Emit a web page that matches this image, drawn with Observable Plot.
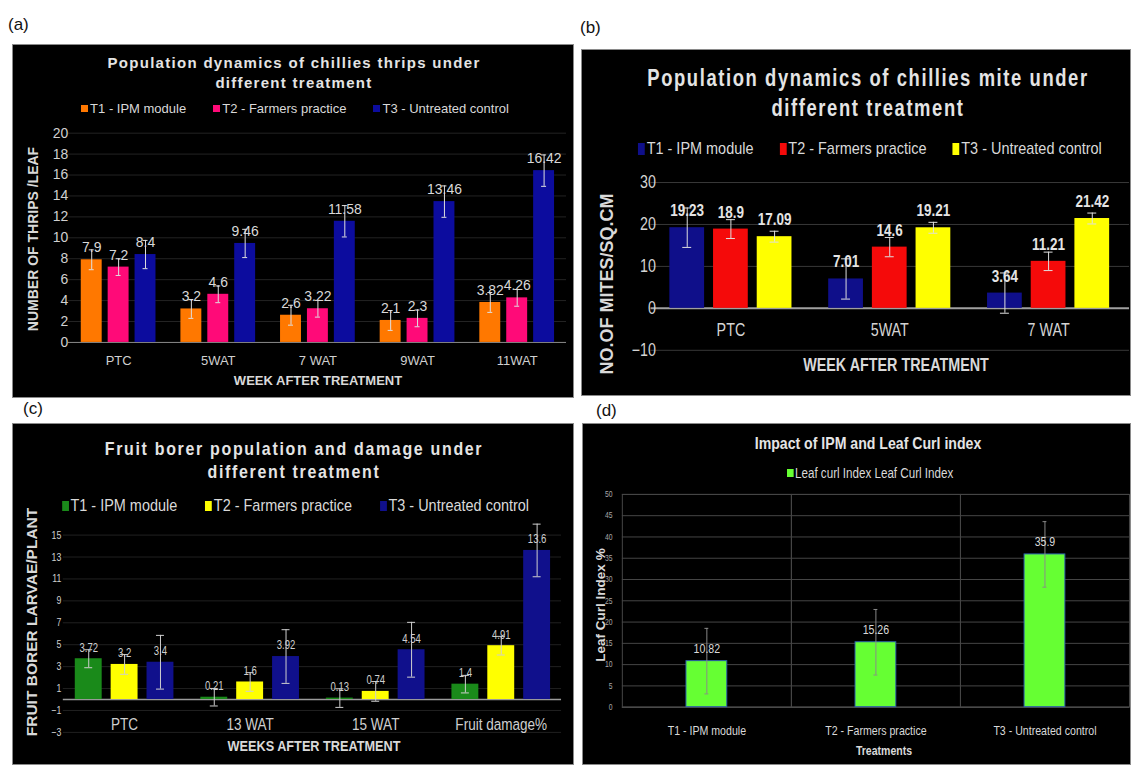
<!DOCTYPE html>
<html><head><meta charset="utf-8">
<script src="https://cdn.jsdelivr.net/npm/d3@7"></script>
<script src="https://cdn.jsdelivr.net/npm/@observablehq/plot@0.6"></script>
<style>
body{margin:0;background:#fff;width:1131px;height:765px;overflow:hidden;position:relative;font-family:"Liberation Sans",Arial,sans-serif;}
.tag{position:absolute;font-size:17px;line-height:20px;color:#111;}
.panel{position:absolute;background:#000;overflow:hidden;box-sizing:border-box;border:1px solid #8a8a8a;}
.panel svg{position:absolute;left:-1px;top:-1px;}
.title{position:absolute;text-align:center;font-weight:bold;color:#e4e4e4;white-space:nowrap;}
.legend{position:absolute;display:flex;justify-content:center;align-items:center;white-space:nowrap;color:#d9d9d9;}
.legend .it{display:flex;align-items:center;}
.legend .sw{display:inline-block;margin-right:2px;}
.ylab{position:absolute;white-space:nowrap;font-weight:bold;}
.xlab{position:absolute;white-space:nowrap;font-weight:bold;}
</style>
</head>
<body>
<div class="tag" style="left:8px;top:15px">(a)</div>
<div class="tag" style="left:580px;top:18px">(b)</div>
<div class="tag" style="left:23px;top:399px">(c)</div>
<div class="tag" style="left:596px;top:401px">(d)</div>
<div class="panel" id="pa" style="left:12px;top:44px;width:562px;height:354px"></div>
<div class="panel" id="pb" style="left:581px;top:49px;width:550px;height:347px"></div>
<div class="panel" id="pc" style="left:12px;top:423px;width:562px;height:342px"></div>
<div class="panel" id="pd" style="left:582px;top:423px;width:549px;height:342px"></div>
<script>
// ---------- data ----------
const treatmentSeries = ["T1 - IPM module", "T2 - Farmers practice", "T3 - Untreated control"];

const thripsWeeks = ["PTC", "5WAT", "7 WAT", "9WAT", "11WAT"];
const thripsT1 = [7.9, 3.2, 2.6, 2.1, 3.82];
const thripsT2 = [7.2, 4.6, 3.22, 2.3, 4.26];
const thripsT3 = [8.4, 9.46, 11.58, 13.46, 16.42];
const thripsErrT1 = [0.95, 0.9, 0.95, 0.95, 0.95];
const thripsErrT2 = [0.8, 0.8, 0.8, 0.8, 0.8];
const thripsErrT3 = [1.35, 1.35, 1.5, 1.5, 1.5];
const thripsTicks = [0, 2, 4, 6, 8, 10, 12, 14, 16, 18, 20];
const thripsColors = ["#ff7800", "#ff0a78", "#0c0c9e"];

const miteWeeks = ["PTC", "5WAT", "7 WAT"];
const miteT1 = [19.23, 7.01, 3.64];
const miteT2 = [18.9, 14.6, 11.21];
const miteT3 = [17.09, 19.21, 21.42];
const miteErrT1 = [4.7, 4.8, 4.8];
const miteErrT2 = [2.25, 2.3, 2.2];
const miteErrT3 = [1.3, 1.3, 1.3];
const miteTicks = [-10, 0, 10, 20, 30];
const miteColors = ["#0f0f8a", "#f50a0a", "#ffff00"];

const borerWeeks = ["PTC", "13 WAT", "15 WAT", "Fruit damage%"];
const borerT1 = [3.72, 0.21, 0.13, 1.4];
const borerT2 = [3.2, 1.6, 0.74, 4.91];
const borerT3 = [3.4, 3.92, 4.54, 13.6];
const borerErrT1 = [0.82, 0.8, 0.85, 0.8];
const borerErrT2 = [0.9, 0.85, 0.9, 0.85];
const borerErrT3 = [2.45, 2.45, 2.5, 2.4];
const borerTicks = [-3, -1, 1, 3, 5, 7, 9, 11, 13, 15];
const borerColors = ["#1a8a1a", "#ffff00", "#10108c"];

const curlTreatments = ["T1 - IPM module", "T2 - Farmers practice", "T3 - Untreated control"];
const curlSeries = "Leaf curl Index Leaf Curl Index";
const curlValues = [10.82, 15.26, 35.9];
const curlErrors = [7.7, 7.7, 7.7];
const curlTicks = [0, 5, 10, 15, 20, 25, 30, 35, 40, 45, 50];
const curlColor = "#66ff33";

const REG = "'Liberation Sans',Arial,sans-serif";

// ---------- helpers ----------
function gridLayer(cfg) {
  return Plot.plot({
    width: cfg.width, height: cfg.height,
    marginTop: cfg.mt, marginBottom: cfg.mb, marginLeft: cfg.ml, marginRight: cfg.mr,
    style: {background: "transparent", overflow: "visible"},
    x: {domain: [0, 1], axis: null},
    y: {domain: cfg.yDomain, axis: null},
    marks: [
      Plot.ruleY(cfg.grid, {stroke: cfg.gridColor}),
      Plot.ruleY([0], {stroke: cfg.zeroColor, strokeWidth: cfg.zeroWidth})
    ]
  });
}

function grouped(cfg) {
  const data = [];
  cfg.cats.forEach((c, i) => cfg.series.forEach((s, j) =>
    data.push({cat: c, ser: s, v: cfg.values[j][i], e: cfg.errors[j][i]})));
  const marks = [
    Plot.barY(data, {fx: "cat", x: "ser", y: "v", fill: "ser"}),
    Plot.ruleX(data, {fx: "cat", x: "ser", y1: d => d.v - d.e, y2: d => d.v + d.e, stroke: cfg.errColor, strokeWidth: 1}),
    Plot.tickY(data, {fx: "cat", x: "ser", y: d => d.v + d.e, stroke: cfg.errColor, insetLeft: cfg.cap, insetRight: cfg.cap}),
    Plot.tickY(data, {fx: "cat", x: "ser", y: d => d.v - d.e, stroke: cfg.errColor, insetLeft: cfg.cap, insetRight: cfg.cap}),
    Plot.text(data, {fx: "cat", x: "ser", y: "v", text: d => String(d.v), dy: cfg.labelDy,
      fill: cfg.labelColor, fontSize: cfg.labelSize, fontWeight: cfg.labelWeight}),
    Plot.axisY({ticks: cfg.yTicks, tickSize: 0, tickPadding: cfg.yPad, fontSize: cfg.ySize,
      fill: cfg.tickColor, label: null})
  ];
  if (cfg.catInside) {
    marks.push(Plot.text(cfg.cats, {fx: d => d, text: d => d, frameAnchor: "bottom", dy: cfg.catDy,
      lineAnchor: "middle", fontSize: cfg.catSize, fill: cfg.tickColor}));
  } else {
    marks.push(Plot.axisFx({anchor: "bottom", tickSize: 0, tickPadding: cfg.catPad, fontSize: cfg.catSize,
      fill: cfg.tickColor, label: null}));
  }
  const fxOpts = {domain: cfg.cats, paddingInner: cfg.fxInner, paddingOuter: cfg.fxOuter, label: null};
  if (cfg.catInside) fxOpts.axis = null;
  return Plot.plot({
    width: cfg.width, height: cfg.height,
    marginTop: cfg.mt, marginBottom: cfg.mb, marginLeft: cfg.ml, marginRight: cfg.mr,
    style: {background: "transparent", color: cfg.tickColor, fontFamily: REG, overflow: "visible"},
    fx: fxOpts,
    x: {domain: cfg.series, paddingInner: cfg.xInner, paddingOuter: 0, axis: null},
    y: {domain: cfg.yDomain},
    color: {domain: cfg.series, range: cfg.colors},
    marks
  });
}

// horizontally condense SVG texts (the reference uses a narrow face)
function condense(svg, f) {
  if (f === 1) return;
  svg.querySelectorAll("text").forEach(t => {
    const L = t.getComputedTextLength();
    if (L > 0) {
      t.setAttribute("textLength", (L * f).toFixed(2));
      t.setAttribute("lengthAdjust", "spacingAndGlyphs");
    }
  });
}

function addHTML(panel, html) {
  panel.insertAdjacentHTML("beforeend", html);
}
function titleHTML(lines, o) {
  return `<div class="title" style="left:0;width:${o.w}px;top:${o.top}px;font-size:${o.size}px;line-height:${o.lh}px;letter-spacing:${o.ls}px;transform:scaleX(${o.sx})">${lines.join("<br>")}</div>`;
}
function legendHTML(items, o) {
  return `<div class="legend" style="top:${o.top}px;left:0;width:${o.w}px;font-size:${o.size}px;gap:${o.gap}px;transform:scaleX(${o.sx})">` +
    items.map(([label, c]) => `<span class="it"><span class="sw" style="background:${c};width:${o.sw[0]}px;height:${o.sw[1]}px"></span>${label}</span>`).join("") +
    `</div>`;
}
function ylabHTML(text, o) {
  return `<div class="ylab" style="left:${o.x}px;top:${o.y}px;font-size:${o.size}px;color:#d9d9d9;transform:translate(-50%,-50%) rotate(-90deg)">${text}</div>`;
}
function xlabHTML(text, o) {
  return `<div class="xlab" style="left:${o.x}px;top:${o.y}px;font-size:${o.size}px;color:#d9d9d9;transform:translate(-50%,-50%) scaleX(${o.sx})">${text}</div>`;
}
function panelChart(el, cfg) {
  el.appendChild(gridLayer(cfg));
  const svg = grouped(cfg);
  el.appendChild(svg);
  condense(svg, cfg.squeeze);
}

// ---------- panel (a) ----------
const pa = document.getElementById("pa");
panelChart(pa, {
  cats: thripsWeeks, series: treatmentSeries,
  values: [thripsT1, thripsT2, thripsT3], errors: [thripsErrT1, thripsErrT2, thripsErrT3],
  colors: thripsColors, width: 562, height: 354, mt: 89, mb: 55, ml: 56, mr: 6,
  fxInner: 0.23, fxOuter: 0.115, xInner: 0.22, yDomain: [0, 20], yTicks: thripsTicks,
  grid: thripsTicks.slice(1), gridColor: "#232323", zeroColor: "#8c8c8c", zeroWidth: 1,
  errColor: "#e0e0e0", cap: 8, labelDy: -12, labelColor: "#d9d9d9", labelSize: 14, labelWeight: "normal",
  yPad: 12, ySize: 14, tickColor: "#d0d0d0",
  catInside: false, catPad: 13, catSize: 13, squeeze: 1
});
addHTML(pa, titleHTML(["Population dynamics of chillies thrips under", "different treatment"], {w: 562, top: 8, size: 15, lh: 20, ls: 1.3, sx: 1}));
addHTML(pa, legendHTML(treatmentSeries.map((s, i) => [s, thripsColors[i]]), {top: 56, w: 564, size: 13, gap: 27, sw: [7, 7], sx: 1}));
addHTML(pa, ylabHTML("NUMBER OF THRIPS /LEAF", {x: 20, y: 194, size: 14}));
addHTML(pa, xlabHTML("WEEK AFTER TREATMENT", {x: 305, y: 335, size: 13, sx: 1}));

// ---------- panel (b) ----------
const pb = document.getElementById("pb");
panelChart(pb, {
  cats: miteWeeks, series: treatmentSeries,
  values: [miteT1, miteT2, miteT3], errors: [miteErrT1, miteErrT2, miteErrT3],
  colors: miteColors, width: 552, height: 347, mt: 134, mb: 44, ml: 70, mr: 0,
  fxInner: 0.216, fxOuter: 0.108, xInner: 0.21, yDomain: [-10, 30], yTicks: miteTicks,
  grid: [-10, 10, 20, 30], gridColor: "#383838", zeroColor: "#a0a0a0", zeroWidth: 2,
  errColor: "#e0e0e0", cap: 13, labelDy: -17, labelColor: "#e4e4e4", labelSize: 17, labelWeight: "bold",
  yPad: 13, ySize: 18, tickColor: "#d4d4d4",
  catInside: true, catDy: -20, catSize: 18, squeeze: 0.8
});
addHTML(pb, titleHTML(["Population dynamics of chillies mite under", "different treatment"], {w: 572, top: 13, size: 23, lh: 30, ls: 2, sx: 0.8}));
addHTML(pb, legendHTML(treatmentSeries.map((s, i) => [s, miteColors[i]]), {top: 89, w: 576, size: 17, gap: 31, sw: [8, 12], sx: 0.85}));
addHTML(pb, ylabHTML("NO.OF MITES/SQ.CM", {x: 25, y: 234, size: 18}));
addHTML(pb, xlabHTML("WEEK AFTER TREATMENT", {x: 314, y: 315, size: 17.5, sx: 0.82}));

// ---------- panel (c) ----------
const pc = document.getElementById("pc");
panelChart(pc, {
  cats: borerWeeks, series: treatmentSeries,
  values: [borerT1, borerT2, borerT3], errors: [borerErrT1, borerErrT2, borerErrT3],
  colors: borerColors, width: 562, height: 342, mt: 112, mb: 32, ml: 51, mr: 11,
  fxInner: 0.2, fxOuter: 0.08, xInner: 0.26, yDomain: [-3, 15], yTicks: borerTicks,
  grid: borerTicks, gridColor: "#202020", zeroColor: "#9a9a9a", zeroWidth: 1.5,
  errColor: "#cfcfcf", cap: 9.5, labelDy: -11, labelColor: "#cfcfcf", labelSize: 12, labelWeight: "normal",
  yPad: 13, ySize: 11, tickColor: "#cfcfcf",
  catInside: true, catDy: -8, catSize: 17, squeeze: 0.8
});
addHTML(pc, titleHTML(["Fruit borer population and damage under", "different treatment"], {w: 562, top: 13, size: 19, lh: 23, ls: 2, sx: 0.84}));
addHTML(pc, legendHTML(treatmentSeries.map((s, i) => [s, borerColors[i]]), {top: 72, w: 565, size: 17, gap: 33, sw: [8, 10], sx: 0.85}));
addHTML(pc, ylabHTML("FRUIT BORER LARVAE/PLANT", {x: 19, y: 198, size: 15.5}));
addHTML(pc, xlabHTML("WEEKS AFTER TREATMENT", {x: 301, y: 322, size: 15.5, sx: 0.82}));

// ---------- panel (d) ----------
const pd = document.getElementById("pd");
const curlData = curlTreatments.map((t, i) => ({t, s: curlSeries, v: curlValues[i], e: curlErrors[i]}));
const curlDims = {width: 563, height: 342, mt: 73, mb: 50, ml: 41, mr: 0};
pd.appendChild(gridLayer({...curlDims, yDomain: [0, 50], grid: curlTicks.slice(1), gridColor: "#474747", zeroColor: "#7a7a7a", zeroWidth: 1}));
const curlSvg = Plot.plot({
  width: curlDims.width, height: curlDims.height, marginTop: curlDims.mt, marginBottom: curlDims.mb,
  marginLeft: curlDims.ml, marginRight: curlDims.mr,
  style: {background: "transparent", color: "#bdbdbd", fontFamily: REG, overflow: "visible"},
  fx: {domain: curlTreatments, padding: 0, label: null},
  x: {domain: [curlSeries], padding: 0.611, axis: null},
  y: {domain: [0, 50]},
  marks: [
    Plot.frame({stroke: "#474747"}),
    Plot.barY(curlData, {fx: "t", x: "s", y: "v", fill: curlColor, stroke: "#2b5fae", strokeWidth: 1}),
    Plot.ruleX(curlData, {fx: "t", x: "s", y1: d => d.v - d.e, y2: d => d.v + d.e, stroke: "#8a8a8a"}),
    Plot.tickY(curlData, {fx: "t", x: "s", y: d => d.v + d.e, stroke: "#8a8a8a", insetLeft: 19, insetRight: 19}),
    Plot.tickY(curlData, {fx: "t", x: "s", y: d => d.v - d.e, stroke: "#8a8a8a", insetLeft: 19, insetRight: 19}),
    Plot.text(curlData, {fx: "t", x: "s", y: "v", text: d => String(d.v), dy: -13, fill: "#d9d9d9", fontSize: 14}),
    Plot.axisY({ticks: curlTicks, tickSize: 0, tickPadding: 10, fontSize: 9, fill: "#a8a8a8", label: null}),
    Plot.axisFx({anchor: "bottom", tickSize: 0, tickPadding: 19, fontSize: 14, fill: "#d9d9d9", label: null})
  ]
});
pd.appendChild(curlSvg);
condense(curlSvg, 0.78);
addHTML(pd, titleHTML(["Impact of IPM and Leaf Curl index"], {w: 570, top: 10, size: 17, lh: 20, ls: 0, sx: 0.83}));
addHTML(pd, legendHTML([[curlSeries, curlColor]], {top: 41, w: 574, size: 14, gap: 0, sw: [8, 8], sx: 0.83}));
addHTML(pd, ylabHTML("Leaf Curl Index %", {x: 17, y: 181, size: 13.5}));
addHTML(pd, xlabHTML("Treatments", {x: 301, y: 326, size: 13, sx: 0.81}));
</script>
</body></html>
